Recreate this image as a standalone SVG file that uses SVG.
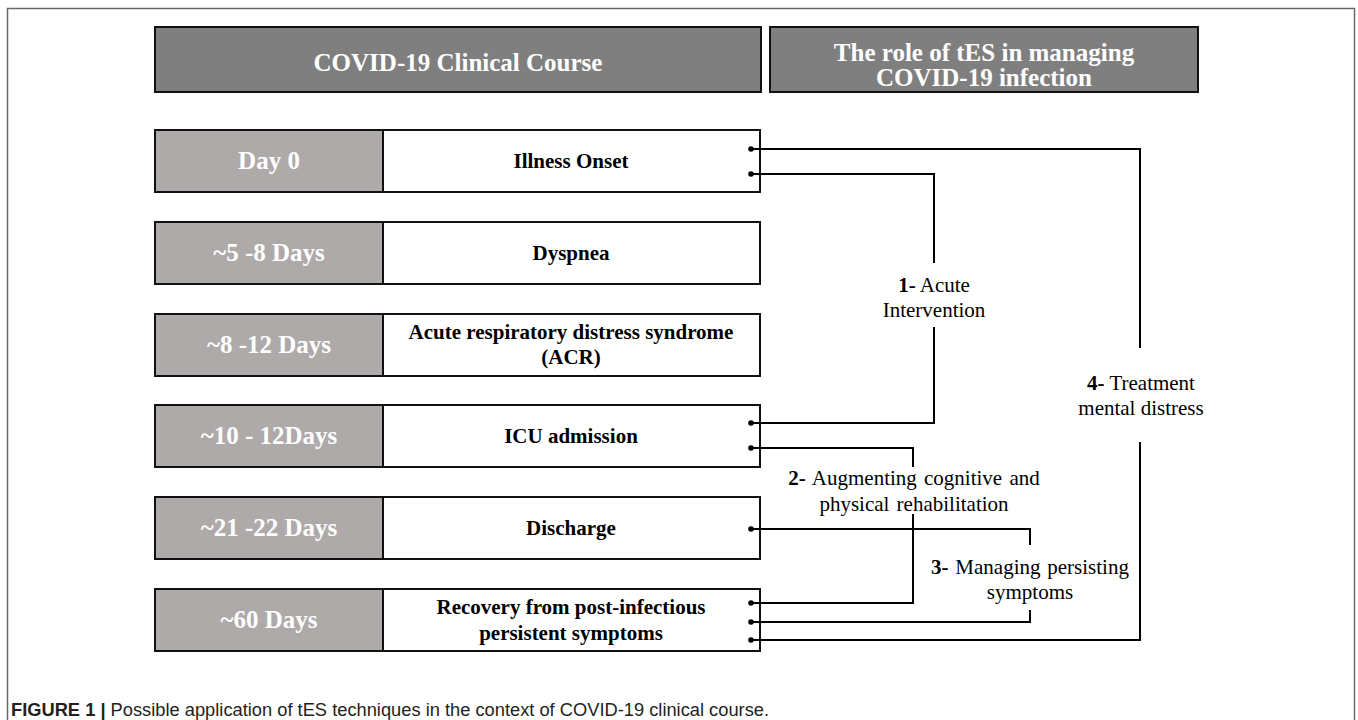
<svg xmlns="http://www.w3.org/2000/svg" width="1358" height="720" viewBox="0 0 1358 720">
<style>
.frame{fill:#fff;stroke:#6a6a6a;stroke-width:1.5}
.hdr{fill:#7f7f7f;stroke:#111;stroke-width:2}
.day{fill:#aeaaaa;stroke:#111;stroke-width:2}
.evt{fill:#fff;stroke:#111;stroke-width:2}
.ht{font-family:"Liberation Serif","Times New Roman",serif;font-weight:bold;font-size:25px;fill:#fff;text-anchor:middle}
.dt{font-family:"Liberation Serif","Times New Roman",serif;font-weight:bold;font-size:25px;fill:#fff;text-anchor:middle}
.et{font-family:"Liberation Serif","Times New Roman",serif;font-weight:bold;font-size:21px;fill:#000;text-anchor:middle}
.lt{font-family:"Liberation Serif","Times New Roman",serif;font-size:21px;fill:#000;text-anchor:middle}
.lt tspan.b{font-weight:bold}
.con{fill:none;stroke:#000;stroke-width:2}
.dot{fill:#000}
.cap{font-family:"Liberation Sans",Arial,sans-serif;font-size:18.3px;fill:#231f20}
</style>
<rect class="frame" x="7.5" y="8.5" width="1347" height="730"/>

<g id="header-course">
<rect class="hdr" x="155" y="27" width="606" height="65"/>
<text class="ht" x="458" y="71">COVID-19 Clinical Course</text>
</g>
<g id="header-tes">
<rect class="hdr" x="770" y="27" width="428" height="65"/>
<text class="ht" x="984" y="61">The role of tES in managing</text>
<text class="ht" x="984" y="86">COVID-19 infection</text>
</g>

<g id="row-day0">
<rect class="day" x="155" y="130" width="228" height="62"/>
<rect class="evt" x="383" y="130" width="377" height="62"/>
<text class="dt" x="269" y="169">Day 0</text>
<text class="et" x="571" y="168">Illness Onset</text>
</g>
<g id="row-dyspnea">
<rect class="day" x="155" y="222" width="228" height="62"/>
<rect class="evt" x="383" y="222" width="377" height="62"/>
<text class="dt" x="269" y="261">~5 -8 Days</text>
<text class="et" x="571" y="260">Dyspnea</text>
</g>
<g id="row-ards">
<rect class="day" x="155" y="314" width="228" height="62"/>
<rect class="evt" x="383" y="314" width="377" height="62"/>
<text class="dt" x="269" y="353">~8 -12 Days</text>
<text class="et" x="571" y="339">Acute respiratory distress syndrome</text>
<text class="et" x="571" y="364">(ACR)</text>
</g>
<g id="row-icu">
<rect class="day" x="155" y="405" width="228" height="62"/>
<rect class="evt" x="383" y="405" width="377" height="62"/>
<text class="dt" x="269" y="444">~10 - 12Days</text>
<text class="et" x="571" y="443">ICU admission</text>
</g>
<g id="row-discharge">
<rect class="day" x="155" y="497" width="228" height="62"/>
<rect class="evt" x="383" y="497" width="377" height="62"/>
<text class="dt" x="269" y="536">~21 -22 Days</text>
<text class="et" x="571" y="535">Discharge</text>
</g>
<g id="row-recovery">
<rect class="day" x="155" y="589" width="228" height="62"/>
<rect class="evt" x="383" y="589" width="377" height="62"/>
<text class="dt" x="269" y="628">~60 Days</text>
<text class="et" x="571" y="614">Recovery from post-infectious</text>
<text class="et" x="571" y="640">persistent symptoms</text>
</g>

<g id="connectors">
<path class="con" d="M751,174 H934 V263 M934,327 V423 H751"/>
<path class="con" d="M751,149 H1140 V348 M1140,442 V640 H751"/>
<path class="con" d="M751,448 H913 V467 M913,514 V603 H751"/>
<path class="con" d="M751,529 H1030 V545 M1030,610 V622 H751"/>
<circle class="dot" cx="751" cy="149" r="2.8"/>
<circle class="dot" cx="751" cy="174" r="2.8"/>
<circle class="dot" cx="751" cy="423" r="2.8"/>
<circle class="dot" cx="751" cy="448" r="2.8"/>
<circle class="dot" cx="751" cy="529" r="2.8"/>
<circle class="dot" cx="751" cy="603" r="2.8"/>
<circle class="dot" cx="751" cy="622" r="2.8"/>
<circle class="dot" cx="751" cy="640" r="2.8"/>
</g>

<g id="label-acute">
<text class="lt" x="934" y="292"><tspan class="b">1-</tspan> Acute</text>
<text class="lt" x="934" y="317">Intervention</text>
</g>
<g id="label-treatment">
<text class="lt" x="1141" y="390"><tspan class="b">4-</tspan> Treatment</text>
<text class="lt" x="1141" y="415">mental distress</text>
</g>
<g id="label-rehab">
<text class="lt" x="914" y="485" word-spacing="2"><tspan class="b">2-</tspan> Augmenting cognitive and</text>
<text class="lt" x="914" y="511" word-spacing="2">physical rehabilitation</text>
</g>
<g id="label-persisting">
<text class="lt" x="1030" y="574" word-spacing="1.5"><tspan class="b">3-</tspan> Managing persisting</text>
<text class="lt" x="1030" y="599">symptoms</text>
</g>

<text class="cap" x="11" y="716"><tspan font-weight="bold">FIGURE 1 |</tspan> Possible application of tES techniques in the context of COVID-19 clinical course.</text>
</svg>
